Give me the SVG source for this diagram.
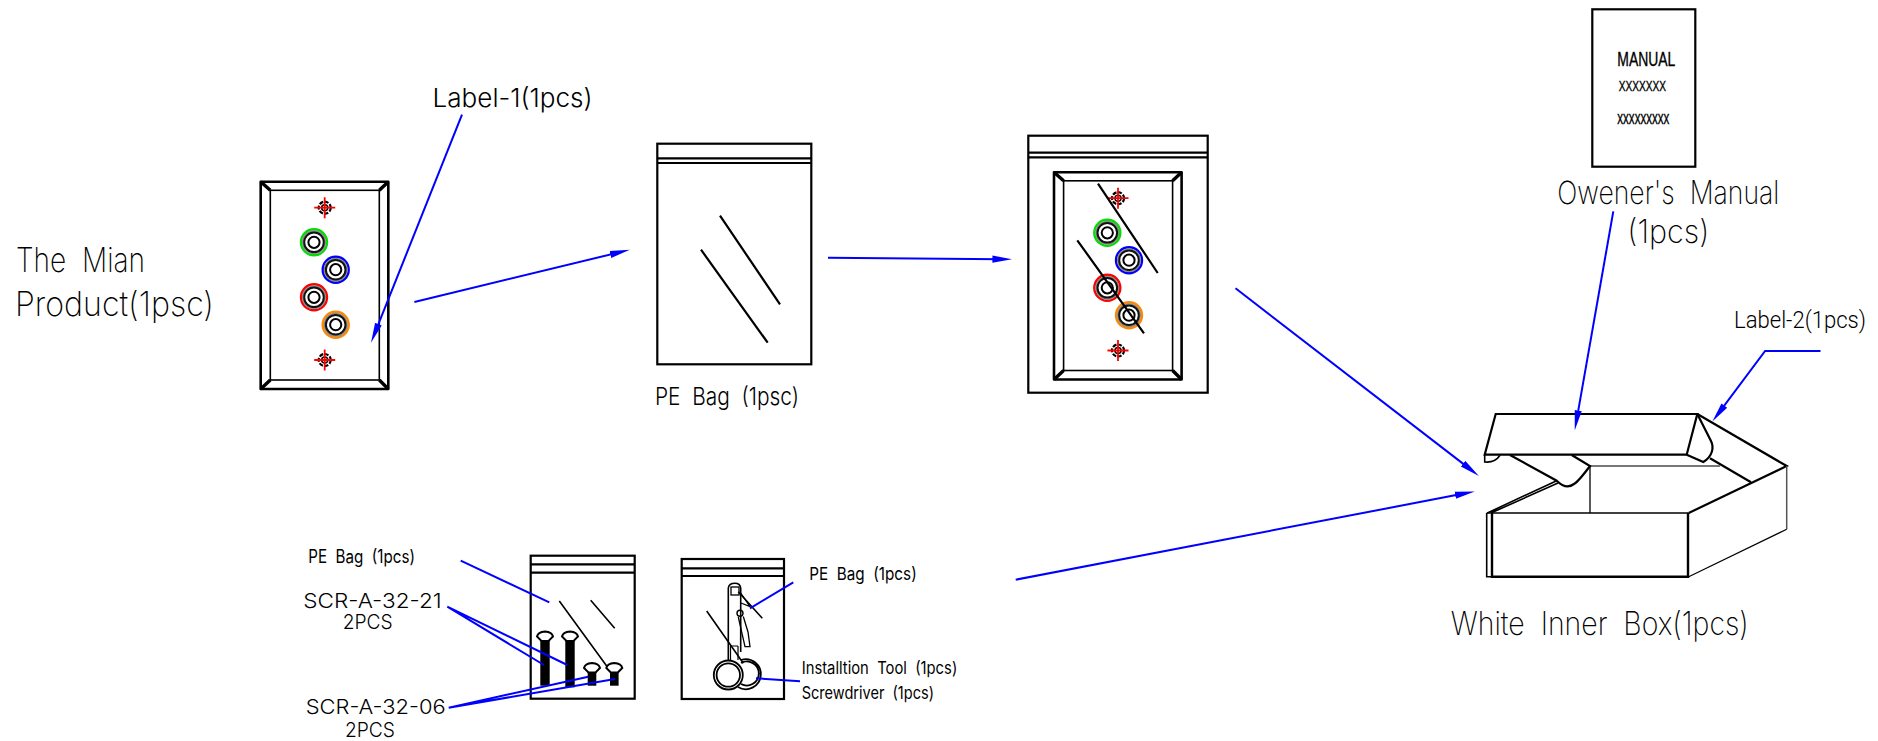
<svg xmlns="http://www.w3.org/2000/svg" xmlns:xlink="http://www.w3.org/1999/xlink" width="1878" height="741" viewBox="0 0 1878 741">
<style>
text{font-family:Inter,"Liberation Sans",sans-serif;fill:#000;word-spacing:.28em}
.lg{font-weight:200;font-size:34px}
.md{font-weight:300;font-size:26px}
.sm{font-weight:400;font-size:18px}
.man{font-family:"Liberation Sans",sans-serif;stroke:#000;stroke-width:.35}
.ln{fill:none;stroke:#000;stroke-width:1.6}
.th{fill:none;stroke:#000;stroke-width:2.2}
.hv{fill:none;stroke:#000;stroke-width:3.4}
.bl{fill:none;stroke:#00f;stroke-width:2}
.ar{marker-end:url(#head)}
</style>
<defs>
<marker id="head" markerUnits="userSpaceOnUse" markerWidth="20" markerHeight="10" viewBox="0 0 18 8" refX="8" refY="4" orient="auto"><path d="M0 .8L18 4L0 7.2Z" fill="#00f"/></marker>
<g id="terminal"><circle r="11.2" fill="none" stroke="#888" stroke-width="1.6"/><circle r="9.8" fill="#fff" stroke="#111" stroke-width="2"/><circle r="5.6" fill="#fff" stroke="#000" stroke-width="2"/></g>
<g id="target"><circle r="6" fill="none" stroke="#000" stroke-width="2.2" stroke-dasharray="4 1.5"/><circle r="3" fill="none" stroke="#000" stroke-width="1.5"/><path d="M-10.5 0H10.5M0-10.5V10.5" stroke="#f00" stroke-width="1.8"/></g>
<g id="panel">
<rect x="260.7" y="181.7" width="127.6" height="207.3" fill="none" stroke="#000" stroke-width="2.6" stroke-linejoin="round"/>
<rect x="270.3" y="190.3" width="109" height="189.7" class="ln"/>
<path d="M260.7 181.7L270.3 190.3M388.3 181.7L379.3 190.3M260.7 389L270.3 380M388.3 389L379.3 380" class="hv"/>
<use xlink:href="#target" x="324.7" y="207.7"/>
<use xlink:href="#target" x="324.7" y="360"/>
<circle cx="314" cy="242.3" r="13" fill="none" stroke="#0d0" stroke-width="2.4"/><use xlink:href="#terminal" x="314" y="242.3"/>
<circle cx="335.7" cy="269.7" r="13" fill="none" stroke="#00f" stroke-width="2.4"/><use xlink:href="#terminal" x="335.7" y="269.7"/>
<circle cx="314" cy="297.3" r="13" fill="none" stroke="#f00" stroke-width="2.4"/><use xlink:href="#terminal" x="314" y="297.3"/>
<circle cx="335.7" cy="324.7" r="13" fill="none" stroke="#f80" stroke-width="2.4"/><use xlink:href="#terminal" x="335.7" y="324.7"/>
</g>
<path id="screwhead" d="M-8 -1.5Q-7 -6 0 -6.5Q7 -6 8 -1.5L3.5 3H-3.5Z" fill="#fff" stroke="#000" stroke-width="2"/>
</defs>

<g id="main-product">
<use xlink:href="#panel"/>
<text class="lg" x="16" y="271.7" textLength="129" lengthAdjust="spacingAndGlyphs">The Mian</text>
<text class="lg" x="15" y="316" textLength="199" lengthAdjust="spacingAndGlyphs">Product(1psc)</text>
</g>

<g id="label-1"><text class="md" x="432.6" y="107.3" textLength="160" lengthAdjust="spacingAndGlyphs">Label-1(1pcs)</text></g>

<g id="pe-bag">
<rect x="657.3" y="143.7" width="154" height="220.6" class="th"/>
<path d="M657.3 158.3H811.3M657.3 163H811.3" class="th"/>
<path d="M720 215.7L780 304.3M701 249.7L767.7 342.7" class="th"/>
<text class="md" x="655" y="405" style="font-size:24px" textLength="144" lengthAdjust="spacingAndGlyphs">PE Bag (1psc)</text>
</g>

<g id="bagged-product">
<rect x="1028.3" y="135.7" width="179.4" height="257" class="th"/>
<path d="M1028.3 152.7H1207.7M1028.3 157.3H1207.7" class="th"/>
<use xlink:href="#panel" transform="translate(793.3 -9.5)"/>
<path d="M1098 183.7L1157.7 273M1077.3 240.3L1144 333.3" class="th"/>
</g>

<g id="manual">
<rect x="1592.3" y="9.3" width="103" height="157.4" class="th"/>
<text class="man" x="1617.3" y="66" style="font-size:19.5px" textLength="58" lengthAdjust="spacingAndGlyphs">MANUAL</text>
<text class="man" x="1618.7" y="91" style="font-size:15px" textLength="47.3" lengthAdjust="spacingAndGlyphs">XXXXXXX</text>
<text class="man" x="1617.3" y="124" style="font-size:19px" textLength="52" lengthAdjust="spacingAndGlyphs">xxxxxxxxx</text>
<text class="lg" x="1557.3" y="204" style="font-size:32px" textLength="222" lengthAdjust="spacingAndGlyphs">Owener's Manual</text>
<text class="lg" x="1627.3" y="242.7" style="font-size:32px" textLength="82" lengthAdjust="spacingAndGlyphs">(1pcs)</text>
</g>

<g id="white-box">
<path d="M1495.7 414H1697.3L1686.7 454.7H1484.7Z" class="th"/>
<path d="M1484.7 454.7V462Q1495 463 1500 455.3" class="ln"/>
<path d="M1697.3 414L1711 441C1714 447 1713 456 1703.3 462L1686.7 454.7" class="th"/>
<path d="M1697.3 414L1786.7 466L1688.7 513" class="th"/>
<path d="M1710 458.3L1751 482.3" class="th"/>
<path d="M1786.7 466V529.3" stroke="#555" stroke-width="1.5" fill="none"/>
<path d="M1786.7 529.3L1688.7 576.7" class="ln" style="stroke-width:1.2"/>
<path d="M1590 466H1720" stroke="#777" stroke-width="2.2" fill="none"/>
<path d="M1590 466V513" class="ln" style="stroke-width:1.3"/>
<path d="M1486.7 513H1688.7" class="ln"/>
<path d="M1486.7 513V576.7H1688.7" class="ln"/>
<path d="M1492 513V576.7H1688V513" fill="none" stroke="#000" stroke-width="2.4"/>
<path d="M1487.3 513L1556.7 480.7M1491 513L1558 483" class="ln"/>
<path d="M1510 455L1556.7 480.7Q1566 490 1574 484Q1578 482 1590 466L1571.7 455" class="th"/>
<text class="lg" x="1450.8" y="635" style="font-size:33px" textLength="298" lengthAdjust="spacingAndGlyphs">White Inner Box(1pcs)</text>
</g>

<g id="label-2"><text class="md" x="1734" y="328.3" style="font-family:Roboto,'Liberation Sans',sans-serif;font-size:23.5px" textLength="132" lengthAdjust="spacingAndGlyphs">Label-2(1pcs)</text></g>

<g id="screw-bag">
<rect x="530.7" y="555.7" width="104" height="143" class="th"/>
<path d="M530.7 564.3H634.7M530.7 572.7H634.7" class="th"/>
<path d="M559.3 601L608.3 668.3M590.7 600.3L614.7 628.3" class="ln"/>
<rect x="540.3" y="641" width="9.4" height="44.7" fill="#000"/><use xlink:href="#screwhead" x="545" y="638"/>
<rect x="565.3" y="641" width="9.4" height="46.3" fill="#000"/><use xlink:href="#screwhead" x="570" y="638"/>
<rect x="587.7" y="671.7" width="8.6" height="14" fill="#000"/><use xlink:href="#screwhead" x="592" y="669.5"/>
<rect x="610" y="671.7" width="8.6" height="14" fill="#000"/><use xlink:href="#screwhead" x="614.3" y="669.5"/>
<text class="sm" x="308.3" y="562.7" textLength="106.7" lengthAdjust="spacingAndGlyphs">PE Bag (1pcs)</text>
<text class="sm" x="303.3" y="608.3" style="font-size:20.5px;font-weight:300" textLength="138.4" lengthAdjust="spacingAndGlyphs">SCR-A-32-21</text>
<text class="sm" x="342.7" y="629.3" style="font-size:20.5px;font-weight:300" textLength="50" lengthAdjust="spacingAndGlyphs">2PCS</text>
<text class="sm" x="305.7" y="714" style="font-size:20.5px;font-weight:300" textLength="140" lengthAdjust="spacingAndGlyphs">SCR-A-32-06</text>
<text class="sm" x="345" y="736.7" style="font-size:20.5px;font-weight:300" textLength="50" lengthAdjust="spacingAndGlyphs">2PCS</text>
</g>

<g id="tool-bag">
<rect x="681.7" y="559" width="102.3" height="140" class="th"/>
<path d="M681.7 568.3H784M681.7 576H784" class="th"/>
<path d="M706.7 611L743.3 663.3M738.3 591.7L762.3 618.3" class="ln"/>
<path d="M728.3 660V588Q729 583.3 735 583.3Q740 583.3 740.7 588V652" class="ln"/>
<rect x="731" y="587" width="8" height="8" class="ln" style="stroke-width:1.3"/>
<path d="M740.7 593L750 606.7L741 603" class="ln" style="stroke-width:1.3"/>
<circle cx="740" cy="613.3" r="3" class="ln" style="stroke-width:1.4"/>
<path d="M738.3 617L745 646.7H750L748 632L743.3 616.5" class="ln" style="stroke-width:1.3"/>
<path d="M730.5 646V660M738 646V660M730.5 646H738" class="ln" style="stroke-width:1.2"/>
<circle cx="728.3" cy="675" r="14.5" class="ln" style="stroke-width:1.8"/><circle cx="728.3" cy="675" r="11.7" class="ln" style="stroke-width:1.8"/>
<path d="M741 660A15 15 0 1 1 738 687M741 663A12 12 0 1 1 741 684" class="ln" style="stroke-width:1.8"/>
<text class="sm" x="809.3" y="580" style="font-size:17.5px" textLength="107.4" lengthAdjust="spacingAndGlyphs">PE Bag (1pcs)</text>
<text class="sm" x="801.7" y="674.3" style="font-size:17px" textLength="155.6" lengthAdjust="spacingAndGlyphs">Installtion Tool (1pcs)</text>
<text class="sm" x="801.7" y="699.3" style="font-size:17px" textLength="132.3" lengthAdjust="spacingAndGlyphs">Screwdriver (1pcs)</text>
</g>

<g id="connectors">
<path class="bl ar" d="M414.4 302L619 252.4"/>
<path class="bl ar" d="M828 257.7L1001.3 259.2"/>
<path class="bl ar" d="M462 114.7L375.1 332.4"/>
<path class="bl ar" d="M1235.5 288.3L1470.1 469.1"/>
<path class="bl ar" d="M1015.7 579.7L1463.9 493.6"/>
<path class="bl ar" d="M1613.3 211.3L1576.7 419.4"/>
<path class="bl ar" d="M1820.5 351H1765.1L1719 412.7"/>
<path class="bl" d="M460.7 560.7L549.3 602.3M447.3 606.7L544 665M447.3 606.7L567.3 665M448.7 707.7L588.3 676.7M448.7 707.7L615 679"/>
<path class="bl" d="M793.3 582.3L750 608.3M800 681.3L756 678.3"/>
</g>
</svg>
